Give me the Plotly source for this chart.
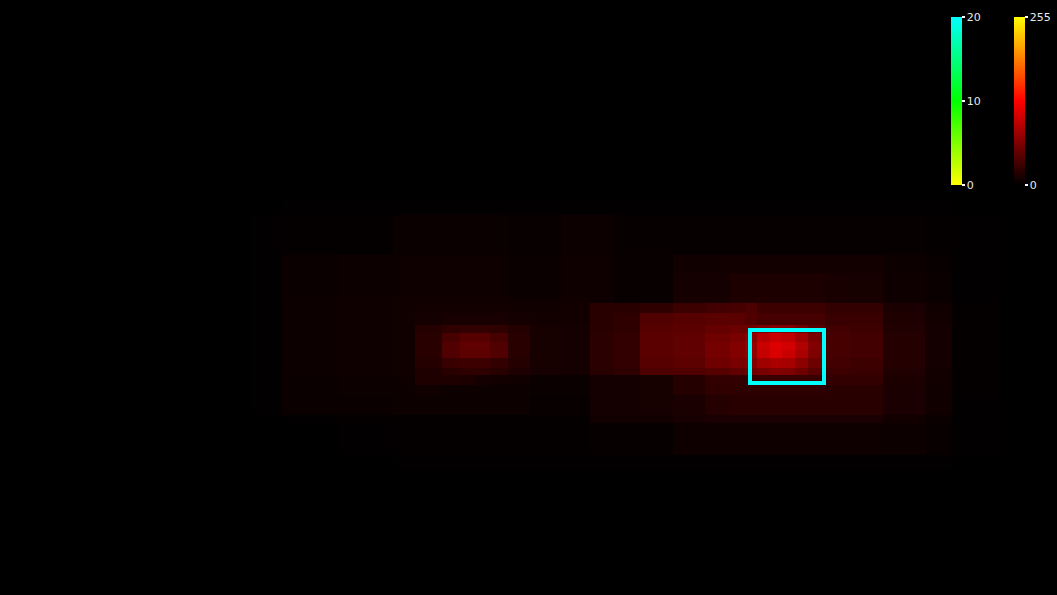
import plotly.graph_objects as go

# Heatmap bin edges (image pixel coordinates)
x_edges = [250, 282, 338, 393, 415, 442, 460, 475, 490, 508, 530, 562, 590, 613, 640,
           673, 705, 730, 745, 757, 770, 782, 795, 808, 825, 850, 883, 925, 952, 1000]
y_edges = [200, 215, 255, 273, 297, 303, 313, 325, 333, 342, 350, 358, 368, 375, 385,
           395, 415, 423, 455, 470]

# Intensity values (0-255), one row per y bin
row00 = [0, 1, 1, 1, 1, 1, 1, 1, 1, 1, 1, 1, 1, 1, 1, 1, 1, 1, 1, 1, 1, 1, 1, 1, 1, 1, 1, 1, 0]
row01 = [1, 2, 2, 5, 5, 5, 5, 5, 5, 4, 4, 6, 6, 3, 3, 3, 3, 3, 3, 3, 3, 3, 3, 3, 3, 3, 3, 2, 1]
row02 = [1, 5, 6, 7, 7, 7, 7, 7, 7, 5, 5, 7, 7, 4, 4, 8, 8, 9, 9, 9, 9, 9, 9, 9, 9, 9, 6, 4, 1]
row03 = [1, 5, 6, 7, 7, 7, 7, 7, 7, 5, 5, 7, 7, 4, 4, 10, 10, 14, 14, 14, 14, 14, 14, 14, 12, 11, 7, 5, 1]
row04 = [1, 6, 7, 8, 8, 8, 8, 8, 8, 7, 7, 8, 7, 4, 4, 11, 11, 15, 15, 15, 15, 15, 15, 15, 12, 12, 7, 5, 1]
row05 = [1, 6, 7, 8, 9, 9, 9, 9, 9, 8, 8, 9, 20, 20, 23, 30, 33, 35, 38, 30, 30, 30, 30, 30, 25, 25, 13, 8, 2]
row06 = [1, 6, 7, 8, 10, 12, 12, 12, 12, 10, 9, 9, 20, 23, 40, 43, 45, 45, 40, 35, 35, 35, 35, 35, 28, 28, 15, 9, 2]
row07 = [1, 6, 7, 8, 18, 23, 25, 25, 23, 18, 11, 10, 20, 23, 43, 45, 50, 53, 55, 60, 65, 63, 55, 45, 33, 30, 16, 10, 2]
row08 = [1, 6, 7, 8, 20, 35, 43, 43, 35, 20, 11, 10, 21, 25, 45, 48, 55, 60, 70, 90, 100, 95, 80, 60, 35, 33, 18, 10, 2]
row09 = [1, 6, 7, 8, 20, 40, 48, 48, 40, 20, 11, 10, 21, 25, 45, 48, 58, 65, 75, 100, 110, 105, 88, 65, 35, 33, 18, 10, 2]
row10 = [1, 6, 7, 8, 20, 40, 46, 46, 40, 20, 11, 10, 21, 25, 45, 48, 58, 65, 73, 98, 108, 100, 85, 63, 35, 33, 18, 10, 2]
row11 = [1, 6, 7, 8, 18, 28, 30, 30, 25, 18, 11, 10, 21, 25, 43, 46, 55, 60, 65, 80, 85, 83, 70, 55, 33, 30, 18, 10, 2]
row12 = [1, 6, 7, 8, 15, 20, 23, 23, 20, 15, 11, 10, 20, 23, 38, 40, 43, 48, 55, 60, 65, 63, 55, 45, 30, 28, 16, 9, 2]
row13 = [1, 5, 6, 7, 15, 15, 14, 10, 9, 8, 5, 5, 10, 10, 11, 18, 25, 25, 28, 28, 28, 28, 28, 28, 25, 25, 14, 9, 2]
row14 = [1, 5, 6, 6, 8, 6, 6, 6, 6, 6, 5, 5, 10, 10, 11, 18, 23, 23, 23, 23, 23, 23, 23, 23, 20, 20, 13, 8, 2]
row15 = [1, 5, 5, 6, 6, 6, 6, 6, 6, 6, 4, 4, 10, 10, 11, 13, 18, 20, 20, 20, 20, 20, 20, 20, 20, 20, 13, 8, 1]
row16 = [0, 1, 2, 2, 2, 2, 2, 2, 2, 2, 2, 2, 9, 9, 9, 11, 13, 13, 13, 13, 13, 13, 13, 13, 13, 13, 9, 5, 1]
row17 = [0, 0, 1, 2, 2, 2, 2, 2, 2, 2, 2, 2, 3, 3, 3, 7, 7, 7, 7, 7, 7, 7, 7, 7, 7, 7, 6, 4, 1]
row18 = [0, 0, 0, 1, 1, 1, 1, 1, 1, 1, 1, 1, 1, 1, 1, 1, 1, 1, 1, 1, 1, 1, 1, 1, 1, 1, 1, 1, 0]

heat_rows = [row00, row01, row02, row03, row04, row05, row06, row07, row08, row09,
             row10, row11, row12, row13, row14, row15, row16, row17, row18]

# Detection box [x0, y0, x1, y1]
box = [750, 330, 824, 383]

# Colorbar ranges
heat_range = [0, 255]
heat_ticks = [0, 255]
count_range = [0, 20]
count_ticks = [0, 10, 20]

W, H = 1057, 595

fig = go.Figure()

fig.add_trace(go.Heatmap(
    z=heat_rows, x=x_edges, y=y_edges,
    zmin=heat_range[0], zmax=heat_range[1],
    colorscale=[[0, "rgb(0,0,0)"], [0.5, "rgb(255,0,0)"], [1, "rgb(255,255,0)"]],
    zsmooth=False,
    hoverinfo="skip",
    colorbar=dict(
        x=1014 / W, xanchor="left", xpad=0,
        y=1 - 17 / H, yanchor="top", ypad=0,
        len=168 / H, lenmode="fraction", thickness=11,
        outlinewidth=0,
        tickvals=heat_ticks, ticktext=[str(v) for v in heat_ticks],
        ticks="outside", ticklen=3, tickwidth=2, tickcolor="white",
        tickfont=dict(color="#e8e8e8", size=11, family="DejaVu Sans"),
    ),
))

fig.add_trace(go.Scatter(
    x=[-100, -100], y=[-100, -100], mode="markers",
    marker=dict(
        color=count_range, cmin=count_range[0], cmax=count_range[1],
        colorscale=[[0, "rgb(255,255,0)"], [0.5, "rgb(0,255,0)"], [1, "rgb(0,255,255)"]],
        showscale=True, size=1,
        colorbar=dict(
            x=951 / W, xanchor="left", xpad=0,
            y=1 - 17 / H, yanchor="top", ypad=0,
            len=168 / H, lenmode="fraction", thickness=11,
            outlinewidth=0,
            tickvals=count_ticks, ticktext=[str(v) for v in count_ticks],
            ticks="outside", ticklen=3, tickwidth=2, tickcolor="white",
            tickfont=dict(color="#e8e8e8", size=11, family="DejaVu Sans"),
        ),
    ),
    hoverinfo="skip", showlegend=False,
))

fig.add_shape(type="rect", x0=box[0], y0=box[1], x1=box[2], y1=box[3],
              line=dict(color="rgb(0,255,255)", width=4))

fig.update_layout(
    width=W, height=H,
    margin=dict(l=0, r=0, t=0, b=0),
    paper_bgcolor="black", plot_bgcolor="black",
    showlegend=False,
    xaxis=dict(range=[0, W], visible=False, fixedrange=True),
    yaxis=dict(range=[H, 0], visible=False, fixedrange=True),
)

fig.write_html("out.html")
